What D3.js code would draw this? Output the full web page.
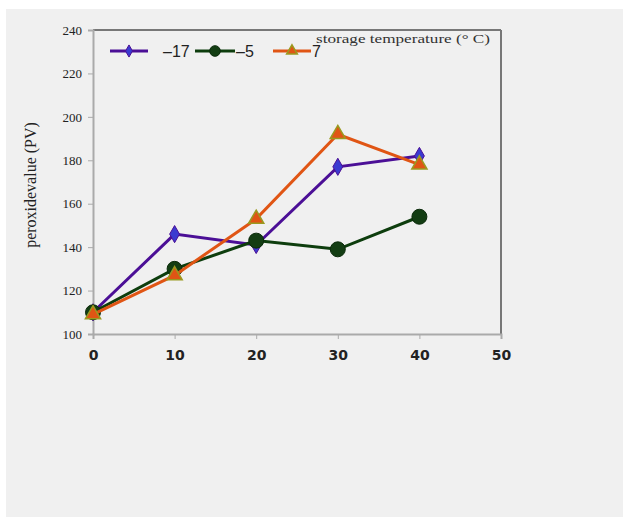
<!DOCTYPE html>
<html><head><meta charset="utf-8">
<script src="https://cdn.jsdelivr.net/npm/d3@7"></script>
<style>html,body{margin:0;padding:0;background:#fff;}</style>
</head><body>
<script>
const days = [0, 10, 20, 30, 40];
const seriesNames = ["–17", "–5", "7"];
const valsM17 = [110, 146, 141, 177, 182];
const valsM5 = [110, 130, 143, 139, 154];
const vals7 = [109, 127, 153, 192, 178];
const xTicks = [0, 10, 20, 30, 40, 50];
const yTicks = [100, 120, 140, 160, 180, 200, 220, 240];

const W = 626, H = 521;
const svg = d3.select("body").append("svg").attr("width", W).attr("height", H);
svg.append("rect").attr("x", 6).attr("y", 9).attr("width", 617).attr("height", 508).attr("fill", "#f0f0f0");

const x = d3.scaleLinear().domain([0, 50]).range([93, 501]);
const y = d3.scaleLinear().domain([100, 240]).range([334, 30]);

// frame top & right
svg.append("line").attr("x1", 93).attr("x2", 501).attr("y1", y(240)).attr("y2", y(240)).attr("stroke", "#777").attr("stroke-width", 2);
svg.append("line").attr("x1", 501).attr("x2", 501).attr("y1", y(240)).attr("y2", y(100)).attr("stroke", "#777").attr("stroke-width", 2);

const yAxis = svg.append("g").attr("transform", "translate(93,0)")
  .call(d3.axisLeft(y).tickValues(yTicks).tickSize(5).tickFormat(d3.format("d")));
yAxis.select(".domain").attr("stroke", "#aaa").attr("stroke-width", 2);
yAxis.selectAll(".tick line").attr("stroke", "#aaa");
yAxis.selectAll("text").attr("font-family", "Liberation Serif, serif").attr("font-size", 13).attr("fill", "#222").attr("x", -11);

const xAxis = svg.append("g").attr("transform", "translate(0,334)")
  .call(d3.axisBottom(x).tickValues(xTicks).tickSize(5).tickFormat(d3.format("d")));
xAxis.select(".domain").attr("stroke", "#aaa").attr("stroke-width", 2);
xAxis.selectAll(".tick line").attr("stroke", "#aaa");
xAxis.selectAll("text").attr("font-family", "DejaVu Sans, sans-serif").attr("font-weight", "bold").attr("font-size", 14).attr("fill", "#222").attr("dy", "1.25em");

svg.append("text").attr("transform", "translate(36,185) rotate(-90)")
  .attr("text-anchor", "middle").attr("font-family", "Liberation Serif, serif").attr("font-size", 16).attr("fill", "#222")
  .text("peroxidevalue (PV)");

const series = [
  {name: seriesNames[0], vals: valsM17, color: "#4b0f96", mfill: "#3a3ad0", shape: "diamond"},
  {name: seriesNames[1], vals: valsM5, color: "#0d3d0d", mfill: "#133d13", shape: "circle"},
  {name: seriesNames[2], vals: vals7, color: "#e05514", mfill: "#e05514", shape: "triangle"}
];
const line = d3.line().x((d, i) => x(days[i])).y(d => y(d));

function marker(g, s, cx, cy, scale) {
  scale = scale || 1;
  if (s.shape === "diamond") {
    g.append("path").attr("d", d3.symbol(d3.symbolDiamond, 85 * scale)()).attr("transform", `translate(${cx},${cy})`).attr("fill", s.mfill).attr("stroke", "#4b0f96").attr("stroke-width", 1);
  } else if (s.shape === "circle") {
    g.append("circle").attr("cx", cx).attr("cy", cy).attr("r", 7.5 * Math.sqrt(scale)).attr("fill", s.mfill).attr("stroke", "#0a2a0a").attr("stroke-width", 1);
  } else {
    g.append("path").attr("d", d3.symbol(d3.symbolTriangle, 100 * scale)()).attr("transform", `translate(${cx},${cy})`).attr("fill", s.mfill).attr("stroke", "#9a9a20").attr("stroke-width", 1.5);
  }
}

series.forEach(s => {
  const g = svg.append("g");
  g.append("path").datum(s.vals).attr("d", line).attr("fill", "none").attr("stroke", s.color).attr("stroke-width", 3);
  s.vals.forEach((v, i) => marker(g, s, x(days[i]), y(v)));
});

// legend
const legLine = [[110, 148], [195, 235], [273, 311]];
const legText = [163, 236, 312];
series.forEach((s, i) => {
  const g = svg.append("g");
  const x1 = legLine[i][0], x2 = legLine[i][1], ly = 51;
  g.append("line").attr("x1", x1).attr("x2", x2).attr("y1", ly).attr("y2", ly).attr("stroke", s.color).attr("stroke-width", 3);
  marker(g, s, (x1 + x2) / 2, ly, 0.5);
  g.append("text").attr("x", legText[i]).attr("y", ly + 6)
    .attr("font-family", "Liberation Sans, Arial, sans-serif").attr("font-size", 16).attr("fill", "#222").text(s.name);
});
svg.append("text").attr("x", 316).attr("y", 43).attr("font-family", "Liberation Serif, serif").attr("font-size", 12).attr("fill", "#333")
  .attr("textLength", 174).attr("lengthAdjust", "spacingAndGlyphs")
  .text("storage temperature (° C)");
</script>
</body></html>
